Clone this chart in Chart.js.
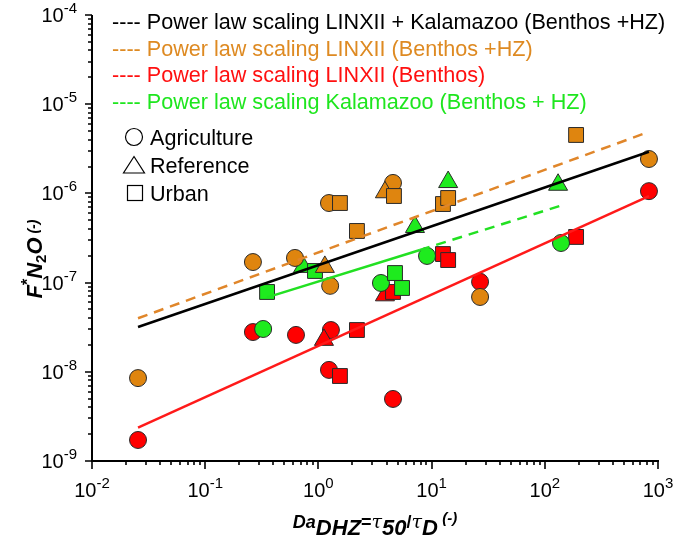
<!DOCTYPE html>
<html lang="en">
<head>
<meta charset="UTF-8">
<title>Power law scaling of F*N2O vs Da</title>
<script src="https://cdn.jsdelivr.net/npm/chart.js"></script>
<style>
  html, body { margin: 0; padding: 0; background: #fff; }
</style>
</head>
<body>
<canvas id="chart" width="677" height="546"></canvas>
<script>
// values: x = Da_DHZ, y = F*N2O
const orangeCircleX = [0.0255, 0.264, 0.621, 1.24, 1.27, 4.56, 26.8, 832];
const orangeCircleY = [8.5e-9, 1.70e-7, 1.89e-7, 7.8e-7, 9.2e-8, 1.31e-6, 6.9e-8, 2.43e-6];
const orangeTriX = [1.14, 3.87];
const orangeTriY = [1.50e-7, 1.03e-6];
const orangeSquareX = [1.55, 2.19, 4.65, 12.6, 14.0, 189];
const orangeSquareY = [7.8e-7, 3.79e-7, 9.35e-7, 7.6e-7, 8.88e-7, 4.52e-6];

const redCircleX = [0.0255, 0.264, 0.634, 1.29, 1.24, 4.56, 26.8, 832];
const redCircleY = [1.72e-9, 2.79e-8, 2.59e-8, 2.94e-8, 1.05e-8, 4.96e-9, 1.02e-7, 1.06e-6];
const redTriX = [1.12, 3.87];
const redTriY = [2.28e-8, 7.2e-8];
const redSquareX = [1.55, 2.19, 4.56, 12.6, 14.0, 189];
const redSquareY = [8.97e-9, 2.94e-8, 7.85e-8, 2.09e-7, 1.79e-7, 3.25e-7];

const greenCircleX = [0.325, 3.57, 9.11, 139];
const greenCircleY = [3.02e-8, 9.9e-8, 1.99e-7, 2.78e-7];
const greenTriX = [0.731, 7.13, 14.0, 131];
const greenTriY = [1.50e-7, 4.2e-7, 1.34e-6, 1.25e-6];
const greenSquareX = [0.352, 0.933, 4.75, 5.48];
const greenSquareY = [7.85e-8, 1.35e-7, 1.28e-7, 8.7e-8];

// fitted power law lines (end points)
const blackLineX = [0.0255, 832];
const blackLineY = [3.18e-8, 2.93e-6];
const orangeLineX = [0.0255, 832];
const orangeLineY = [3.98e-8, 4.9e-6];
const redLineX = [0.0255, 832];
const redLineY = [2.36e-9, 9.3e-7];
const greenLineX = [0.352, 7.9, 144];   // solid part, then dashed
const greenLineY = [6.82e-8, 2.32e-7, 7.4e-7];

const legendLabels = [
  'Power law scaling LINXII + Kalamazoo (Benthos +HZ)',
  'Power law scaling LINXII (Benthos +HZ)',
  'Power law scaling LINXII (Benthos)',
  'Power law scaling Kalamazoo (Benthos + HZ)'
];
const shapeLabels = ['Agriculture', 'Reference', 'Urban'];
const xTickExp = ['-2', '-1', '0', '1', '2', '3'];
const yTickExp = ['-9', '-8', '-7', '-6', '-5', '-4'];

const ORANGE = '#DF850F', RED = '#FF0000', GREEN = '#1EEB1E';
const FONT = '"Liberation Sans", Arial, sans-serif';

function pts(xs, ys) { return xs.map((x, i) => ({ x: x, y: ys[i] })); }

function markers(xs, ys, color, style, r, order) {
  return {
    data: pts(xs, ys), order: order, showLine: false, clip: false,
    pointStyle: style, pointRadius: r, pointHoverRadius: r,
    backgroundColor: color, borderColor: '#2a2a2a', borderWidth: 1
  };
}
function fitLine(xs, ys, color, dash) {
  return {
    data: pts(xs, ys), order: 0, showLine: true, pointRadius: 0,
    borderColor: color, borderWidth: 2.5, borderDash: dash || [], fill: false
  };
}

const datasets = [
  fitLine(blackLineX, blackLineY, '#000000'),
  fitLine(orangeLineX, orangeLineY, '#E0862A', [10, 7]),
  fitLine(redLineX, redLineY, '#FF1A1A'),
  Object.assign(fitLine(greenLineX, greenLineY, '#22E022'), {
    segment: { borderDash: c => c.p0DataIndex === 1 ? [10, 7] : [] }
  }),
  markers(orangeSquareX, orangeSquareY, ORANGE, 'rect', 10.5, 1),
  markers(orangeTriX, orangeTriY, ORANGE, 'triangle', 11, 2),
  markers(orangeCircleX, orangeCircleY, ORANGE, 'circle', 8.5, 3),
  markers(greenSquareX, greenSquareY, GREEN, 'rect', 10.5, 4),
  markers(greenTriX, greenTriY, GREEN, 'triangle', 11, 5),
  markers(greenCircleX, greenCircleY, GREEN, 'circle', 8.5, 6),
  markers(redSquareX, redSquareY, RED, 'rect', 10.5, 7),
  markers(redTriX, redTriY, RED, 'triangle', 11, 8),
  markers(redCircleX, redCircleY, RED, 'circle', 8.5, 9)
];

// draw a sequence of text pieces [text, font, dy] starting at x
function drawPieces(ctx, pieces, x, y) {
  let cx = x;
  for (const p of pieces) {
    ctx.font = p[1];
    ctx.fillText(p[0], cx, y + (p[2] || 0));
    cx += ctx.measureText(p[0]).width;
  }
}
function piecesWidth(ctx, pieces) {
  let w = 0;
  for (const p of pieces) { ctx.font = p[1]; w += ctx.measureText(p[0]).width; }
  return w;
}

const decoration = {
  id: 'decoration',
  afterDraw(chart) {
    const ctx = chart.ctx;
    const xs = chart.scales.x, ys = chart.scales.y;
    const a = chart.chartArea;
    ctx.save();
    ctx.strokeStyle = '#000';
    ctx.fillStyle = '#000';
    ctx.lineWidth = 2;
    ctx.beginPath();
    ctx.moveTo(a.left, a.top);
    ctx.lineTo(a.left, a.bottom);
    ctx.lineTo(a.right + 1, a.bottom);
    ctx.stroke();

    // ticks
    ctx.lineWidth = 1.6;
    ctx.beginPath();
    for (let d = -2; d <= 3; d++) {
      for (let k = 1; k <= 9; k++) {
        if (d === 3 && k > 1) break;
        const px = Math.round(xs.getPixelForValue(k * Math.pow(10, d)));
        ctx.moveTo(px, a.bottom);
        ctx.lineTo(px, a.bottom + (k === 1 ? 8 : 4));
      }
    }
    for (let d = -9; d <= -4; d++) {
      for (let k = 1; k <= 9; k++) {
        if (d === -4 && k > 1) break;
        const py = Math.round(ys.getPixelForValue(k * Math.pow(10, d)));
        ctx.moveTo(a.left, py);
        ctx.lineTo(a.left - (k === 1 ? 7 : 4), py);
      }
    }
    ctx.stroke();

    // tick labels
    const body = '20px ' + FONT, sup = '15px ' + FONT;
    ctx.textBaseline = 'alphabetic';
    xTickExp.forEach((e, i) => {
      const px = xs.getPixelForValue(Math.pow(10, -2 + i));
      const pcs = [['10', body, 0], [e, sup, -9]];
      drawPieces(ctx, pcs, px - piecesWidth(ctx, pcs) / 2, 497);
    });
    yTickExp.forEach((e, i) => {
      const py = ys.getPixelForValue(Math.pow(10, -9 + i));
      const pcs = [['10', body, 0], [e, sup, -9]];
      drawPieces(ctx, pcs, 77 - piecesWidth(ctx, pcs), py + 7);
    });

    // x axis title
    const bi = s => 'italic bold ' + s + 'px ' + FONT;
    const tau = 'italic 19px "DejaVu Serif", serif';
    const xt = [
      ['Da', bi(18), -7], ['DHZ', bi(22), 0], ['=', 'bold 18px ' + FONT, -7],
      ['\u03C4', tau, -7], ['50', bi(22), 0],
      ['/', 'bold 18px ' + FONT, -7], ['\u03C4', tau, -7],
      ['D', bi(22), 0], [' (-)', bi(15), -12]
    ];
    drawPieces(ctx, xt, (a.left + a.right) / 2 - piecesWidth(ctx, xt) / 2, 535);

    // y axis title (rotated)
    const yt = [
      ['F', bi(22), 0], ['*', 'bold 16px ' + FONT, -9], ['N', bi(22), 0],
      ['2', 'bold 15px ' + FONT, 4], ['O', bi(22), 0], [' (-)', bi(14), -4]
    ];
    ctx.save();
    ctx.translate(42, 259);
    ctx.rotate(-Math.PI / 2);
    drawPieces(ctx, yt, -piecesWidth(ctx, yt) / 2, 0);
    ctx.restore();

    // line legend
    const legColors = ['#000000', '#DE8A22', '#FF1010', '#1EE61E'];
    ctx.font = '21.6px ' + FONT;
    legendLabels.forEach((t, i) => {
      ctx.fillStyle = legColors[i];
      ctx.fillText('---- ' + t, 112, 29 + i * 26.7);
    });

    // shape legend
    ctx.fillStyle = '#000';
    ctx.strokeStyle = '#000';
    ctx.lineWidth = 1.2;
    ctx.beginPath();
    ctx.arc(134, 137, 8.5, 0, Math.PI * 2);
    ctx.stroke();
    ctx.beginPath();
    ctx.moveTo(134, 156.5);
    ctx.lineTo(144.5, 173);
    ctx.lineTo(123.5, 173);
    ctx.closePath();
    ctx.stroke();
    ctx.strokeRect(127.5, 185.5, 15, 15);
    shapeLabels.forEach((t, i) => {
      ctx.fillText(t, 150, 145 + i * 27.8);
    });
    ctx.restore();
  }
};

new Chart(document.getElementById('chart').getContext('2d'), {
  type: 'scatter',
  data: { datasets: datasets },
  options: {
    responsive: false,
    animation: false,
    layout: { padding: { left: 92, top: 15, right: 19, bottom: 85 } },
    plugins: { legend: { display: false }, tooltip: { enabled: false } },
    scales: {
      x: { type: 'logarithmic', min: 0.01, max: 1000, display: false },
      y: { type: 'logarithmic', min: 1e-9, max: 1e-4, display: false }
    }
  },
  plugins: [decoration]
});
</script>
</body>
</html>
